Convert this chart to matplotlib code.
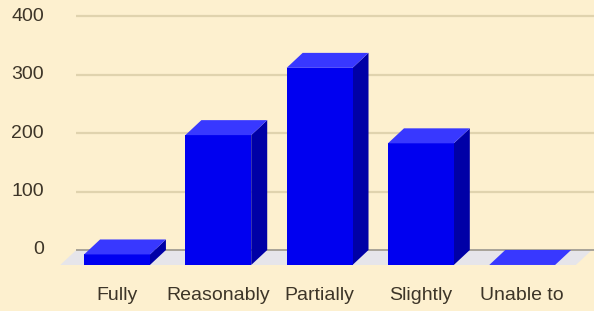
import matplotlib
matplotlib.use("Agg")
import matplotlib.pyplot as plt

categories = ["Fully", "Reasonably", "Partially", "Slightly", "Unable to"]
values = [18, 222, 337, 208, 0]
yticks = [0, 100, 200, 300, 400]

# style constants
BG = "#FDF0CF"
GRID = "#E0D3AE"
ZERO = "#A8A398"
FLOOR = "#E6E5EA"
FRONT = "#0000F0"
TOP = "#3838FF"
SIDE = "#0000A6"
TEXT = "#3D3528"
BAR_W = 0.65
DX = 0.158   # depth offset in category units
DZ = 25.6    # depth offset in value units

plt.rcParams["font.family"] = ["Liberation Sans", "DejaVu Sans"]

fig = plt.figure(figsize=(5.94, 3.11), dpi=100, facecolor=BG)
ax = fig.add_axes([0, 0, 1, 1])
ax.set_facecolor(BG)
ax.set_xlim(-1.155, 4.709)
ax.set_ylim(-104.3, 427.4)
ax.axis("off")

n = len(categories)
left_front = -0.5 - 0.06
right_front = n - 1 + 0.5 + 0.03

# floor
ax.fill([left_front, right_front, right_front + DX, left_front + DX],
        [-DZ, -DZ, 0, 0], color=FLOOR, zorder=1, lw=0)

# gridlines on back wall
for t in yticks:
    ax.plot([left_front + DX, ax.get_xlim()[1]], [t, t],
            color=ZERO if t == 0 else GRID, lw=1.6 if t else 1.4,
            zorder=0.5 if t else 1.5, solid_capstyle="butt")
    ax.text(-0.72, t, str(t), ha="right", va="center", fontsize=14,
            color=TEXT)

# bars
for i, (c, v) in enumerate(zip(categories, values)):
    x0 = i - BAR_W / 2
    x1 = i + BAR_W / 2
    yb = -DZ
    yt = v - DZ
    # side face
    ax.fill([x1, x1 + DX, x1 + DX, x1], [yb, yb + DZ, yt + DZ, yt],
            color=SIDE, lw=0, zorder=3)
    # front face
    ax.fill([x0, x1, x1, x0], [yb, yb, yt, yt], color=FRONT, lw=0, zorder=4)
    # top face
    ax.fill([x0, x1, x1 + DX, x0 + DX], [yt, yt, yt + DZ, yt + DZ],
            color=TOP, lw=0, zorder=4)
    ax.text(i, -78, c, ha="center", va="center", fontsize=14, color=TEXT)

fig.savefig("out.png", dpi=100, facecolor=BG)
